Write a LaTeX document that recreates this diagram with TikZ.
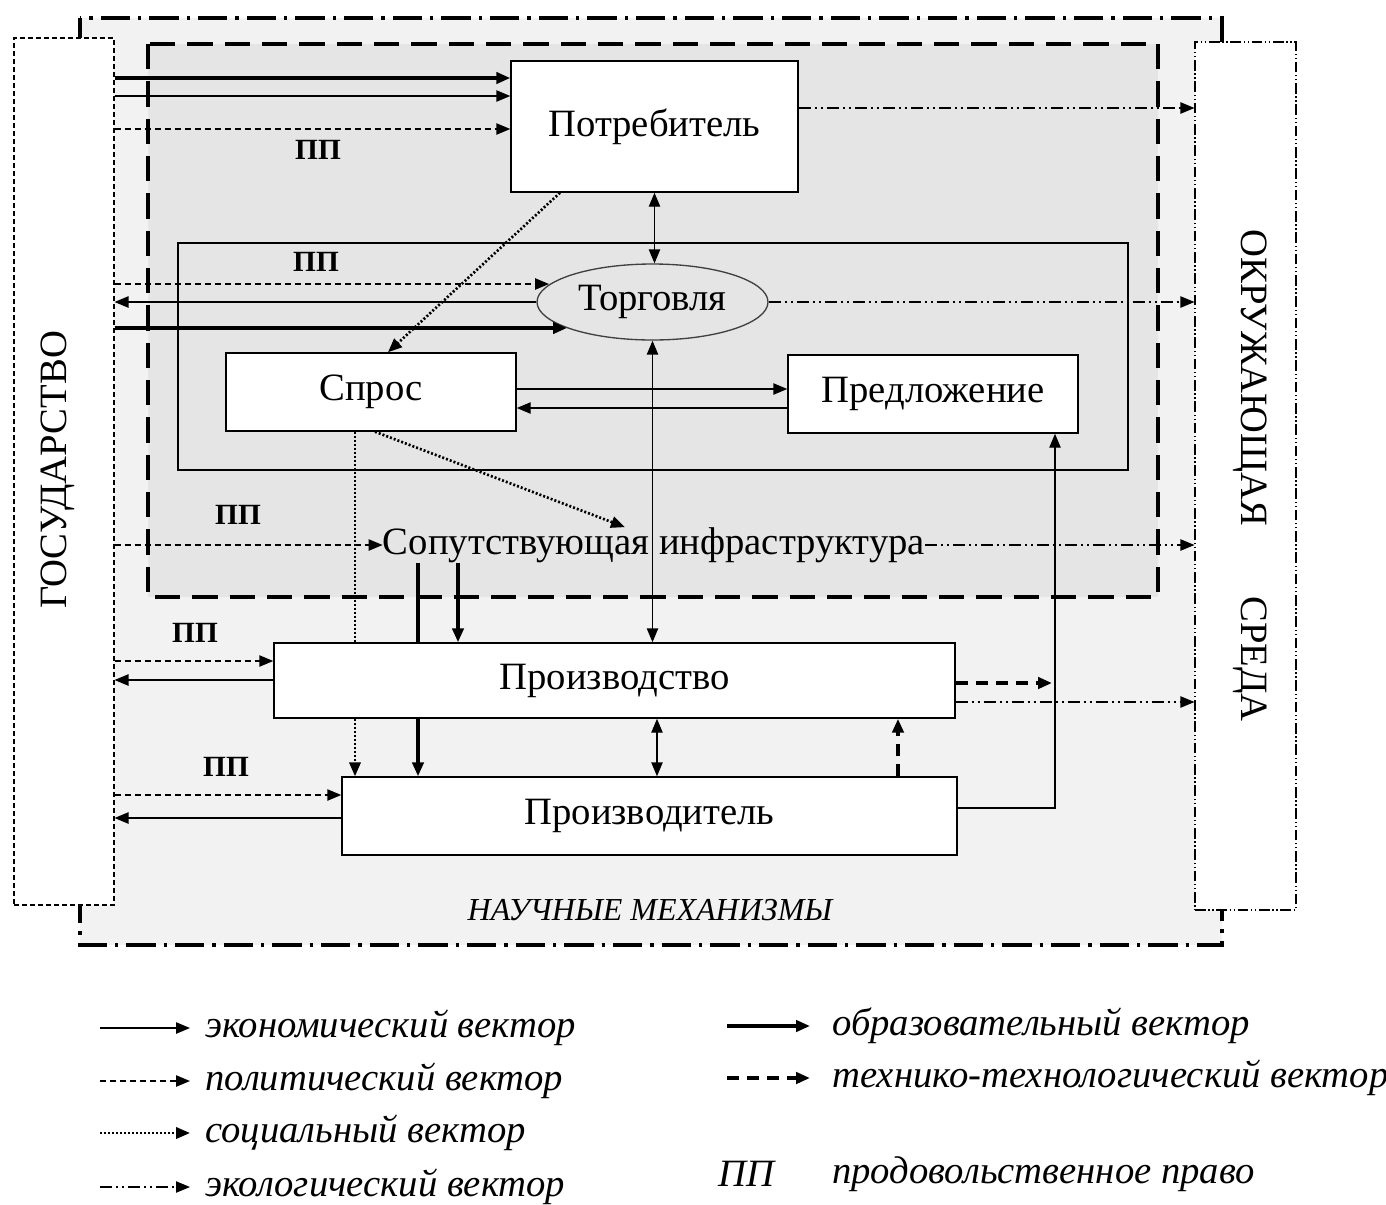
\documentclass[tikz,border=0pt]{standalone}
\usepackage{fontspec}
\setmainfont{Liberation Serif}
\usetikzlibrary{arrows.meta,shapes.geometric,calc}
\definecolor{outerg}{HTML}{F2F2F2}
\definecolor{innerg}{HTML}{E5E5E5}
\tikzset{
  tip/.style={-{Triangle[length=10.5pt,width=8.5pt]}},
  dtip/.style={{Triangle[length=10.5pt,width=8.5pt]}-{Triangle[length=10.5pt,width=8.5pt]}},
  econ/.style={line width=1.1pt},
  polit/.style={line width=1.1pt, dash pattern=on 4.5pt off 3pt},
  soc/.style={line width=2pt, dash pattern=on 1.5pt off 1.5pt},
  ecol/.style={line width=0.9pt, dash pattern=on 9pt off 3pt on 1.5pt off 3pt on 1.5pt off 3pt},
  educ/.style={line width=2.5pt},
  tech/.style={line width=2.7pt, dash pattern=on 9pt off 6pt},
  box/.style={draw, line width=1.1pt, fill=white, font=\fontsize{29}{32}\selectfont, inner sep=0pt},
  ppl/.style={font=\bfseries\fontsize{22}{25}\selectfont},
  lgd/.style={anchor=west, font=\itshape\fontsize{29}{32}\selectfont, inner sep=0pt},
  bigtxt/.style={font=\fontsize{29}{32}\selectfont, inner sep=0pt},
}
\begin{document}
\begin{tikzpicture}[x=0.75pt,y=-0.75pt]
\useasboundingbox (0,0) rectangle (1386,1204);
% outer region: scientific mechanisms
\draw[fill=outerg, line width=2.3pt, dash pattern=on 22pt off 6pt on 2.5pt off 6pt] (80,18) rectangle (1222,945);
% state and environment boxes
\node[draw, fill=white, line width=0.8pt, dash pattern=on 3.5pt off 2.5pt, minimum width=75pt, minimum height=650.25pt, inner sep=0pt] (gos) at (64,471.5) {};
\node[draw, fill=white, line width=0.8pt, dash pattern=on 8pt off 2pt on 1pt off 2pt on 1pt off 2pt, minimum width=75.75pt, minimum height=651pt, inner sep=0pt] (okr) at (1245.5,476) {};
\node[bigtxt, rotate=90] (gosT) at (58,470) {ГОСУДАРСТВО};
\node[bigtxt, rotate=-90] (okrT) at (1250,378) {ОКРУЖАЮЩАЯ};
\node[bigtxt, rotate=-90] (sredT) at (1250,659) {СРЕДА};
% inner dashed region
\draw[fill=innerg, line width=2.6pt, dash pattern=on 19pt off 9pt] (148,44) rectangle (1158,597);
% market rectangle
\draw[line width=1.1pt] (178,243) rectangle (1128,470);
% nodes
\node[box, minimum width=215.25pt, minimum height=98.25pt] (potr) at (654.5,126.5) {\raisebox{5pt}{Потребитель}};
\node[draw=black!75, line width=1pt, fill=innerg, ellipse, minimum width=173.25pt, minimum height=57pt, inner sep=0pt, font=\fontsize{29}{32}\selectfont] (torg) at (652.5,302) {Торговля};
\node[box, minimum width=217.5pt, minimum height=58.5pt] (spros) at (371,392) {\raisebox{2pt}{Спрос}};
\node[box, minimum width=217.5pt, minimum height=58.5pt] (pred) at (933,394) {\raisebox{2pt}{Предложение}};
\node[bigtxt] (infra) at (654,545) {Сопутствующая инфраструктура};
\node[box, minimum width=510.75pt, minimum height=56.25pt] (proizv) at (614.5,680.5) {\raisebox{2pt}{Производство}};
\node[box, minimum width=461.25pt, minimum height=58.5pt] (prd) at (649.5,816) {\raisebox{3pt}{Производитель}};
\node[font=\itshape\fontsize{24}{27}\selectfont] (nauch) at (650,910) {НАУЧНЫЕ МЕХАНИЗМЫ};
% PP labels
\node[ppl] (pp1) at (318,150) {ПП};
\node[ppl] (pp2) at (316,262) {ПП};
\node[ppl] (pp3) at (238,515) {ПП};
\node[ppl] (pp4) at (195,633) {ПП};
\node[ppl] (pp5) at (226,767) {ПП};
\coordinate (torgA) at (549,284);
\coordinate (torgB) at (567,328);
\coordinate (techEnd) at (1052,683);
% connectors to consumer
\draw[educ,tip] (gos.east |- 0,78) -- (potr.west |- 0,78);
\draw[econ,tip] (gos.east |- 0,96) -- (potr.west |- 0,96);
\draw[polit,tip] (gos.east |- 0,129) -- (potr.west |- 0,129);
\draw[ecol,tip] (potr.east |- 0,108) -- (okr.west |- 0,108);
% trade
\draw[polit,tip] (gos.east |- torgA) -- (torgA);
\draw[econ,tip] (torg.west) -- (gos.east |- torg.west);
\draw[educ,tip] (gos.east |- torgB) -- (torgB);
\draw[ecol,tip] (torg.east) -- (okr.west |- torg.east);
\draw[econ,dtip] (potr.south) -- (potr.south |- torg.north);
\draw[econ,dtip] (torg.south) -- (torg.south |- proizv.north);
\draw[soc,tip] (potr.south -| 560,0) -- (spros.north -| 388,0);
% demand / supply
\draw[econ,tip] (spros.east |- 0,389) -- (pred.west |- 0,389);
\draw[econ,tip] (pred.west |- 0,408) -- (spros.east |- 0,408);
\draw[soc,tip] (spros.south -| 375,0) -- (infra.north -| 625,0);
\draw[soc] (spros.south -| 355,0) -- (proizv.north -| 355,0);
\draw[soc,tip] (proizv.south -| 355,0) -- (prd.north -| 355,0);
% infrastructure
\draw[polit,tip] (gos.east |- infra.west) -- (infra.west);
\draw[ecol,tip] (infra.east) -- (okr.west |- infra.east);
\draw[educ] (infra.south -| 418,0) -- (proizv.north -| 418,0);
\draw[educ,tip] (proizv.south -| 418,0) -- (prd.north -| 418,0);
\draw[educ,tip] (infra.south -| 458,0) -- (proizv.north -| 458,0);
% production / producer
\draw[econ,dtip] (proizv.south -| 657,0) -- (prd.north -| 657,0);
\draw[tech,tip] (prd.north -| 898,0) -- (proizv.south -| 898,0);
\draw[tech,tip] (proizv.east |- techEnd) -- (techEnd);
\draw[ecol,tip] (proizv.east |- 0,702) -- (okr.west |- 0,702);
\draw[econ,tip] (prd.east |- 0,808) -| (pred.south -| 1055,0);
\draw[polit,tip] (gos.east |- 0,661) -- (proizv.west |- 0,661);
\draw[econ,tip] (proizv.west |- 0,680) -- (gos.east |- 0,680);
\draw[polit,tip] (gos.east |- 0,795) -- (prd.west |- 0,795);
\draw[econ,tip] (prd.west |- 0,818) -- (gos.east |- 0,818);
% legend
\draw[econ,tip] (100,1028) -- (190,1028);
\node[lgd] (l1) at (205,1028) {экономический вектор};
\draw[polit,tip] (100,1081) -- (190,1081);
\node[lgd] (l2) at (205,1081) {политический вектор};
\draw[soc,tip] (100,1133) -- (190,1133);
\node[lgd] (l3) at (205,1133) {социальный вектор};
\draw[ecol,tip] (100,1187) -- (190,1187);
\node[lgd] (l4) at (205,1187) {экологический вектор};
\draw[educ,tip] (727,1026) -- (810,1026);
\node[lgd] (l5) at (832,1026) {образовательный вектор};
\draw[tech,tip] (727,1078) -- (810,1078);
\node[lgd] (l6) at (832,1078) {технико-технологический вектор};
\node[lgd] (l7) at (718,1174) {ПП};
\node[lgd] (l8) at (832,1174) {продовольственное право};
\end{tikzpicture}
\end{document}
